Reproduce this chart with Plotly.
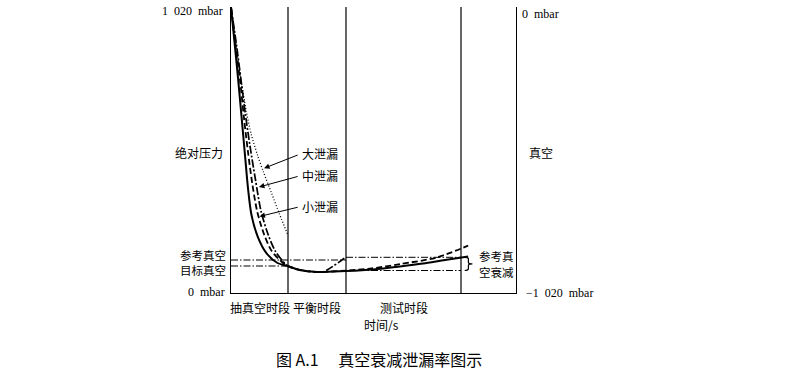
import plotly.graph_objects as go

# ---------------- data (time in s, absolute pressure in mbar) ----------------
P_MAX = 1020
T_PUMP_END = 20.0      # end of pump-down period
T_BAL_END = 40.35      # end of balance period
T_TEST_END = 80.7      # end of test period
T_MAX = 100.0

P_REF_VAC = 117.7      # reference vacuum
P_TARGET_VAC = 96.3    # target vacuum
P_DECAY_HI = 127.3     # reference vacuum decay band, upper
P_DECAY_LO = 80.2      # reference vacuum decay band, lower

# no-leak curve (solid)
t_ok = [0, 1.23, 2.46, 3.68, 4.91, 5.96, 7.19, 9.4, 12.35, 16.3, 20.0,
        24.2, 30.2, 40.35, 49.8, 59.3, 67.4, 75.1, 83.2]
p_ok = [1020, 895, 767, 631, 492, 374, 278, 200, 143, 107, 96,
        82, 75, 78.5, 84, 94.5, 105, 117.7, 130]

# small leak (dashed)
t_small = [0, 1.58, 3.16, 4.56, 5.96, 7.54, 9.23, 11.68, 14.28, 17.89, 20.0,
           24.2, 30.2, 40.35, 48.8, 59.3, 72.3, 83.2]
p_small = [1020, 884, 760, 624, 503, 385, 289, 207, 150, 110.6, 96,
           82, 75, 80, 87, 103, 127, 169]

# medium leak (dash-dot)
t_med = [0, 1.93, 3.51, 5.09, 6.67, 8.6, 10.6, 13.09, 15.51, 18.42, 20.0,
         24.2, 30.2, 32.3, 40.35]
p_med = [1020, 884, 760, 635, 524, 403, 289, 207, 150, 110.6, 96,
         82, 75, 75, 128]

# large leak (dotted)
t_big = [0, 1.75, 3.51, 5.26, 7.19, 9.3, 11.4, 14.2, 17.0, 20.1]
p_big = [1020, 884, 760, 653, 563, 492, 431, 357, 282, 203]

period_labels = ["抽真空时段", "平衡时段", "测试时段"]
period_bounds = [0, T_PUMP_END, T_BAL_END, T_TEST_END]

leak_labels = ["大泄漏", "中泄漏", "小泄漏"]
leak_tip_t = [11.6, 9.8, 10.0]
leak_tip_p = [445, 378, 273]
leak_tail_t = [23.9, 23.9, 23.9]
leak_tail_p = [494, 417, 307]

# ---------------- figure ----------------
L, R, T, B = 231, 516, 7, 293   # plot-area pixel box
W, H = 800, 382

def px(x):
    return (x - L) / (R - L)

def py(y):
    return (B - y) / (B - T)

CJK = "Noto Sans CJK SC"
SERIF = "Liberation Serif"

fig = go.Figure()

def curve(t, p, dash, width):
    fig.add_trace(go.Scatter(
        x=t, y=p, mode="lines",
        line=dict(color="black", width=width, dash=dash, shape="spline", smoothing=0.8),
        hoverinfo="skip", showlegend=False, cliponaxis=False))

curve(t_big, p_big, "1px,2px", 1.3)
curve(t_med, p_med, "8px,2px,2px,2px", 1.7)
curve(t_small, p_small, "6px,3px", 1.8)
curve(t_ok, p_ok, "solid", 2.0)

# reference lines (dash-dot)
def refline(t0, t1, p):
    fig.add_trace(go.Scatter(
        x=[t0, t1], y=[p, p], mode="lines",
        line=dict(color="black", width=1, dash="7px,2px,1.5px,2px"),
        hoverinfo="skip", showlegend=False))

refline(0, T_BAL_END, P_REF_VAC)
refline(0, T_PUMP_END, P_TARGET_VAC)
refline(T_BAL_END, T_TEST_END, P_DECAY_HI)
refline(T_BAL_END, T_TEST_END, P_DECAY_LO)

shapes = []
for tb in [T_PUMP_END, T_BAL_END, T_TEST_END]:
    shapes.append(dict(type="line", xref="x", yref="y", x0=tb, x1=tb, y0=0, y1=P_MAX,
                       line=dict(color="black", width=1.2)))

# curly brace marking the reference vacuum decay
bx = T_TEST_END + 2.6
mid = (P_DECAY_HI + P_DECAY_LO) / 2
brace = (f"M {bx-1.3},{P_DECAY_HI} Q {bx},{P_DECAY_HI} {bx},{P_DECAY_HI-6} "
         f"L {bx},{mid+5} Q {bx},{mid} {bx+1.4},{mid} Q {bx},{mid} {bx},{mid-5} "
         f"L {bx},{P_DECAY_LO+6} Q {bx},{P_DECAY_LO} {bx-1.3},{P_DECAY_LO}")
shapes.append(dict(type="path", xref="x", yref="y", path=brace,
                   line=dict(color="black", width=1.2)))

ann = []

def text(s, x, y, xanchor="center", font=CJK, size=12, xref="paper", yref="paper", **kw):
    ann.append(dict(text=s, x=x, y=y, xref=xref, yref=yref, xanchor=xanchor,
                    yanchor="middle", showarrow=False,
                    font=dict(family=font, size=size, color="black"), **kw))

NB = "\u00a0"
# left side
text(f"1{NB}{NB}020{NB}{NB}mbar", px(225), py(11), "right", SERIF, 12)
text(f"0{NB}{NB}mbar", px(227), py(292), "right", SERIF, 12)
text("绝对压力", px(225), py(153), "right")
text("参考真空", px(227.5), py(254.5), "right", size=11.5)
text("目标真空", px(227.5), py(269.5), "right", size=11.5)
# right side
text(f"0{NB}{NB}mbar", px(520), py(14), "left", SERIF, 12)
text(f"−1{NB}{NB}020{NB}{NB}mbar", px(524), py(293), "left", SERIF, 12)
text("真空", px(527), py(153), "left")
text("参考真", px(477), py(256), "left", size=11.5)
text("空衰减", px(477), py(272), "left", size=11.5)
# periods
for i, lab in enumerate(period_labels):
    text(lab, (period_bounds[i] + period_bounds[i + 1]) / 2, py(307), "center", xref="x")
text("时间/s", px(381), py(324))
# leak labels with arrows
for lab, tt, tp, at, ap in zip(leak_labels, leak_tip_t, leak_tip_p, leak_tail_t, leak_tail_p):
    ann.append(dict(text="", x=tt, y=tp, xref="x", yref="y", ax=at, ay=ap,
                    axref="x", ayref="y", showarrow=True, arrowhead=2,
                    arrowsize=1.1, arrowwidth=1, arrowcolor="black"))
    text(lab, at + 0.4, ap + 3, "left", xref="x", yref="y")
# caption
text("图 A.1\u3000 真空衰减泄漏率图示", px(379), py(359), "center", CJK, 16)

fig.update_layout(
    width=W, height=H,
    margin=dict(l=L, r=W - R, t=T, b=H - B, pad=0),
    paper_bgcolor="white", plot_bgcolor="white",
    showlegend=False,
    shapes=shapes, annotations=ann,
    xaxis=dict(range=[0, T_MAX], showgrid=False, zeroline=False, showticklabels=False,
               ticks="", showline=True, linecolor="black", linewidth=1.2, mirror=False,
               fixedrange=True),
    yaxis=dict(range=[0, P_MAX], showgrid=False, zeroline=False, showticklabels=False,
               ticks="", showline=True, linecolor="black", linewidth=1.2, mirror=True,
               fixedrange=True),
)

fig.write_html("out.html", config={"displayModeBar": False},
               post_script="document.body.style.margin='0';document.body.style.padding='0';")
